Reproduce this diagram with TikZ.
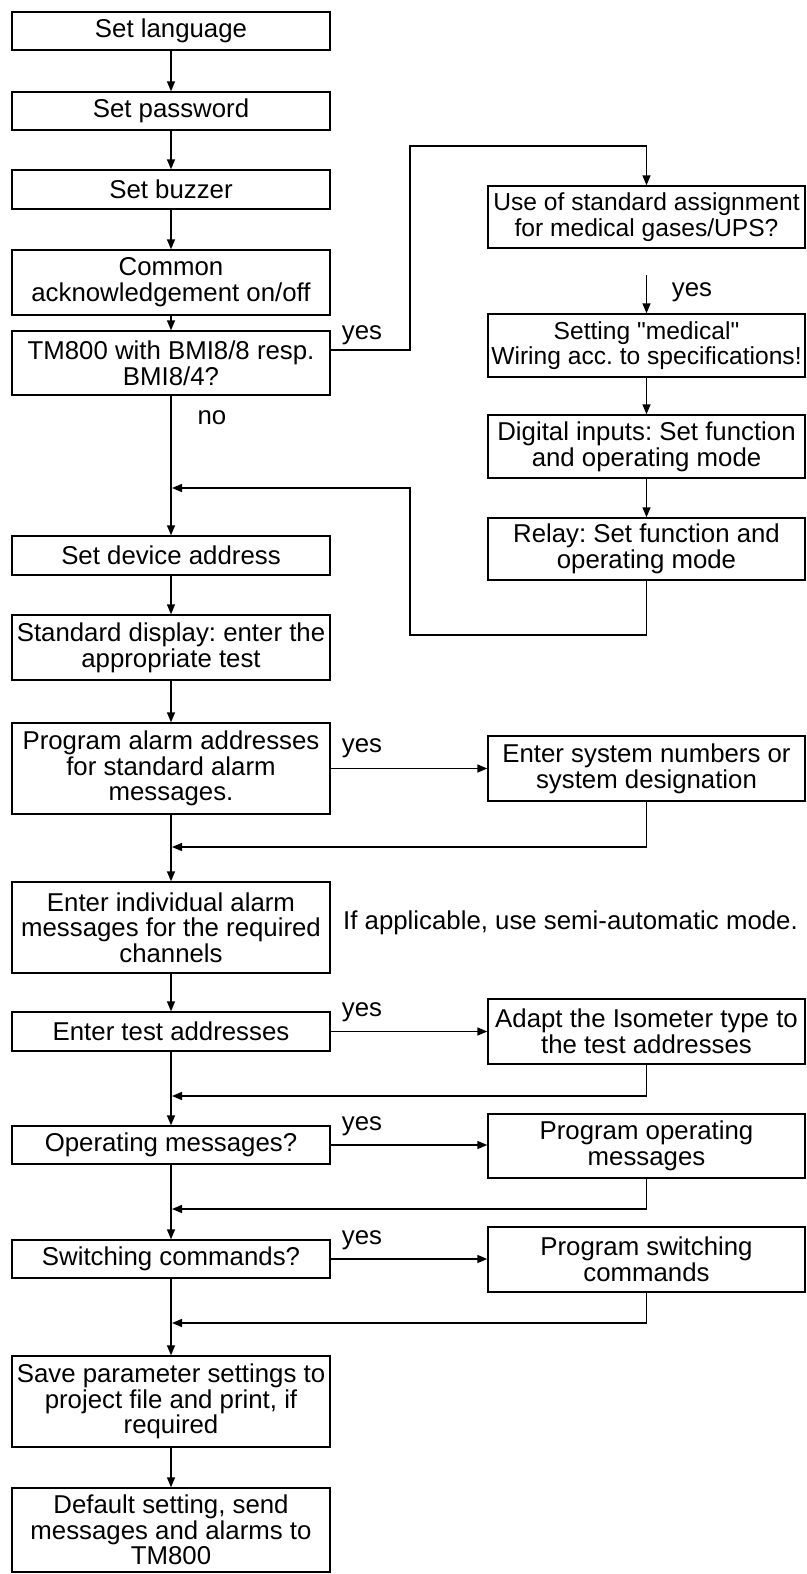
\documentclass[tikz,border=0pt]{standalone}
\usepackage{fontspec}
\setmainfont{Liberation Sans}[Ligatures=TeXOff]
\usetikzlibrary{arrows.meta}
\frenchspacing
\begin{document}
\begin{tikzpicture}[x=1pt,y=-1pt,
  every node/.style={font=\fontsize{25.8}{25.7}\selectfont},
  lbox/.style={draw, line width=1.4pt, inner sep=0pt, align=center, minimum width=318pt},
  rbox/.style={draw, line width=1.4pt, inner sep=0pt, align=center, minimum width=317pt},
  tight/.style={font=\fontsize{24.6}{25.7}\selectfont},
  arr/.style={line width=1.4pt, -{Triangle[length=10pt,width=8pt]}},
  lbl/.style={inner sep=0pt}
]
\useasboundingbox (0,0) rectangle (806,1574);
% left column
\node[lbox, minimum height=38pt] (lang) at (171,31) {Set language};
\node[lbox, minimum height=38pt] (pass) at (171,111) {Set password};
\node[lbox, minimum height=39pt] (buzz) at (171,189.5) {Set buzzer};
\node[lbox, minimum height=65pt] (ack) at (171,282.5) {Common\\acknowledgement on/off};
\node[lbox, minimum height=64pt] (tm) at (171,363) {TM800 with BMI8/8 resp.\\BMI8/4?};
\node[lbox, minimum height=39pt] (dev) at (171,555.5) {Set device address};
\node[lbox, minimum height=65pt] (disp) at (171,647.5) {Standard display: enter the\\appropriate test};
\node[lbox, minimum height=91pt] (palarm) at (171,768.5) {Program alarm addresses\\for standard alarm\\messages.};
\node[lbox, minimum height=91pt] (indiv) at (171,927.5) {Enter individual alarm\\messages for the required\\channels};
\node[lbox, minimum height=39pt] (test) at (171,1031.5) {Enter test addresses};
\node[lbox, minimum height=38pt] (opm) at (171,1145) {Operating messages?};
\node[lbox, minimum height=38pt] (swc) at (171,1259) {Switching commands?};
\node[lbox, minimum height=91pt] (save) at (171,1401.5) {Save parameter settings to\\project file and print, if\\required};
\node[lbox, minimum height=84pt] (deflt) at (171,1530) {Default setting, send\\messages and alarms to\\TM800};
% right column
\node[rbox, tight, minimum height=62pt] (usestd) at (646.5,217) {Use of standard assignment\\for medical gases/UPS?};
\node[rbox, tight, minimum height=63pt] (med) at (646.5,345.5) {Setting "medical"\\Wiring acc. to specifications!};
\node[rbox, minimum height=63pt] (dig) at (646.5,446.5) {Digital inputs: Set function\\and operating mode};
\node[rbox, minimum height=62pt] (relay) at (646.5,549) {Relay: Set function and\\operating mode};
\node[rbox, minimum height=65pt] (sysn) at (646.5,768.5) {Enter system numbers or\\system designation};
\node[rbox, minimum height=65pt] (iso) at (646.5,1031.5) {Adapt the Isometer type to\\the test addresses};
\node[rbox, minimum height=64pt] (pop) at (646.5,1146) {Program operating\\messages};
\node[rbox, minimum height=65pt] (psw) at (646.5,1259.5) {Program switching\\commands};
% free text
\node[lbl, anchor=west] (note) at (343,923) {If applicable, use semi-automatic mode.};
% labels
\node[lbl] (ytm) at (362,335) {yes};
\node[lbl] (yuse) at (692,292) {yes};
\node[lbl] (nno) at (212,418) {no};
\node[lbl] (ypal) at (362,748) {yes};
\node[lbl] (ytest) at (362,1012) {yes};
\node[lbl] (yopm) at (362,1126) {yes};
\node[lbl] (yswc) at (362,1240) {yes};
% coordinates
\coordinate (c1) at (410,350);
\coordinate (c2) at (410,146);
\coordinate (c3) at (646.5,146);
\coordinate (c4) at (646.5,275);
\coordinate (c5) at (646.5,635);
\coordinate (c6) at (410,635);
\coordinate (c7) at (410,488);
\coordinate (m1) at (172,488);
\coordinate (r1) at (646.5,847);
\coordinate (m2) at (172,847);
\coordinate (r2) at (646.5,1096);
\coordinate (m3) at (172,1096);
\coordinate (r3) at (646.5,1209);
\coordinate (m4) at (172,1209);
\coordinate (r4) at (646.5,1323);
\coordinate (m5) at (172,1323);
% main arrows
\draw[arr] (lang) -- (pass);
\draw[arr] (pass) -- (buzz);
\draw[arr] (buzz) -- (ack);
\draw[arr] (ack) -- (tm);
\draw[arr] (tm) -- (dev);
\draw[arr] (dev) -- (disp);
\draw[arr] (disp) -- (palarm);
\draw[arr] (palarm) -- (indiv);
\draw[arr] (indiv) -- (test);
\draw[arr] (test) -- (opm);
\draw[arr] (opm) -- (swc);
\draw[arr] (swc) -- (save);
\draw[arr] (save) -- (deflt);
% yes branch from TM800
\draw[arr] (tm.east |- c1) -- (c1) -- (c2) -- (c3) -- (usestd.north);
\draw[arr] (c4) -- (med.north);
\draw[arr] (med) -- (dig);
\draw[arr] (dig) -- (relay);
\draw[arr] (relay.south) -- (c5) -- (c6) -- (c7) -- (m1);
% side branches
\draw[arr] (palarm.east |- sysn.west) -- (sysn.west);
\draw[arr] (sysn.south) -- (r1) -- (m2);
\draw[arr] (test.east) -- (iso.west);
\draw[arr] (iso.south) -- (r2) -- (m3);
\draw[arr] (opm.east) -- (opm.east -| pop.west);
\draw[arr] (pop.south) -- (r3) -- (m4);
\draw[arr] (swc.east) -- (swc.east -| psw.west);
\draw[arr] (psw.south) -- (r4) -- (m5);
\end{tikzpicture}
\end{document}
